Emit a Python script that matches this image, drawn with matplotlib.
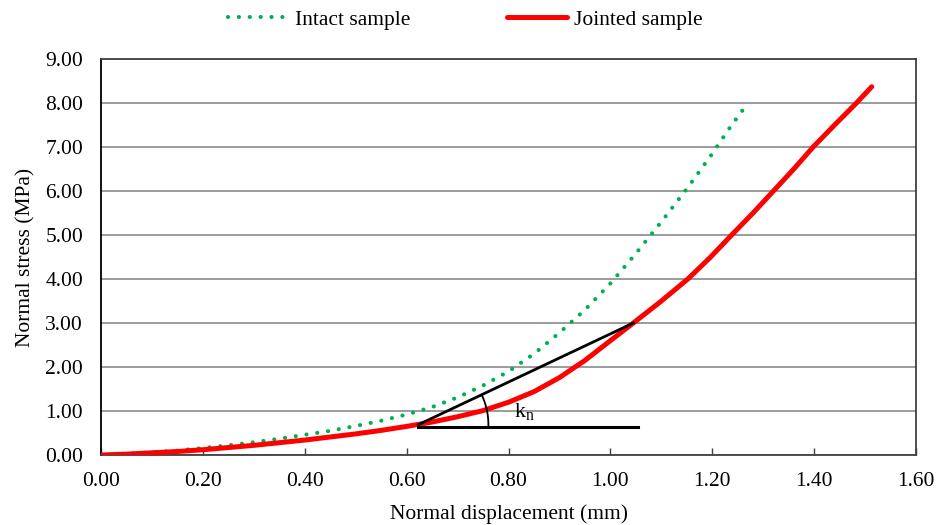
import numpy as np
import matplotlib
matplotlib.use("Agg")
import matplotlib.pyplot as plt

plt.rcParams["font.family"] = ["Liberation Serif", "DejaVu Serif"]
plt.rcParams["mathtext.fontset"] = "custom"
plt.rcParams["mathtext.rm"] = "Liberation Serif"
plt.rcParams["mathtext.it"] = "Liberation Serif:italic"

# Normal stress (MPa) vs. normal displacement (mm)
intact_disp = [0.00, 0.05, 0.10, 0.15, 0.20, 0.25, 0.30, 0.35, 0.40, 0.45, 0.50,
               0.55, 0.60, 0.65, 0.70, 0.75, 0.80, 0.85, 0.90, 0.95, 1.00,
               1.05, 1.10, 1.15, 1.20, 1.235, 1.27]
intact_stress = [0.00, 0.03, 0.06, 0.10, 0.16, 0.22, 0.29, 0.37, 0.46, 0.55, 0.66,
                 0.78, 0.92, 1.09, 1.31, 1.58, 1.90, 2.30, 2.78, 3.30, 3.90,
                 4.58, 5.30, 6.05, 6.85, 7.45, 8.00]

jointed_disp = [0.00, 0.05, 0.10, 0.15, 0.20, 0.25, 0.30, 0.35, 0.40, 0.45, 0.50,
                0.55, 0.60, 0.65, 0.70, 0.75, 0.80, 0.85, 0.90, 0.95, 1.00,
                1.045, 1.10, 1.152, 1.195, 1.238, 1.28, 1.32, 1.36, 1.398,
                1.44, 1.483, 1.513]
jointed_stress = [0.00, 0.02, 0.05, 0.08, 0.12, 0.17, 0.22, 0.28, 0.34, 0.41, 0.48,
                  0.56, 0.65, 0.75, 0.87, 1.01, 1.20, 1.44, 1.76, 2.15, 2.60,
                  3.00, 3.50, 4.00, 4.48, 5.00, 5.50, 6.00, 6.50, 7.00,
                  7.50, 8.00, 8.37]

x_ticks = [0.00, 0.20, 0.40, 0.60, 0.80, 1.00, 1.20, 1.40, 1.60]
y_ticks = [0, 1, 2, 3, 4, 5, 6, 7, 8, 9]

# Secant stiffness construction (k_n)
kn_start = (0.623, 0.69)
kn_end = (1.045, 3.00)
kn_base_y = 0.64
kn_base_end = 1.055
kn_label_pos = (0.810, 0.86)

FS = 15.5

fig = plt.figure(figsize=(9.38, 5.25), dpi=100)
ax = fig.add_axes([0.1077, 0.1333, 0.8689, 0.7543])

ax.set_xlim(0, 1.6)
ax.set_ylim(0, 9)
ax.set_xticks(x_ticks)
ax.set_xticklabels([f"{v:.2f}" for v in x_ticks])
ax.set_yticks(y_ticks)
ax.set_yticklabels([f"{v:.2f}" for v in y_ticks])
ax.tick_params(axis="x", direction="in", length=5, width=1.0, color="#404040",
               labelsize=FS, pad=12)
ax.tick_params(axis="y", length=0, labelsize=FS, pad=13)
ax.grid(axis="y", color="#808080", linewidth=1.1, zorder=0)
ax.set_axisbelow(True)
for side in ("top", "right", "bottom"):
    ax.spines[side].set_color("#404040")
    ax.spines[side].set_linewidth(1.3)
ax.spines["left"].set_color("black")
ax.spines["left"].set_linewidth(1.3)

ax.plot(intact_disp, intact_stress, color="#00b050", linewidth=3.0,
        linestyle=(0, (0.01, 2.6)), dash_capstyle="round",
        label="Intact sample", zorder=3)
ax.plot(jointed_disp, jointed_stress, color="#ff0000", linewidth=3.6,
        solid_capstyle="round", solid_joinstyle="round",
        label="Jointed sample", zorder=4)

# secant line and horizontal reference
ax.plot([kn_start[0], kn_end[0]], [kn_start[1], kn_end[1]], color="black",
        linewidth=2.0, zorder=5)
ax.plot([kn_start[0], kn_base_end], [kn_base_y, kn_base_y], color="black",
        linewidth=2.2, zorder=5)

# angle arc, drawn as a circle in display space
fig.canvas.draw()
to_disp = ax.transData
p0 = to_disp.transform(kn_start)
p1 = to_disp.transform(kn_end)
ang = np.arctan2(p1[1] - p0[1], p1[0] - p0[0])
r = 70.0
t = np.linspace(0, ang, 40)
arc_disp = np.column_stack([p0[0] + r * np.cos(t), p0[1] + r * np.sin(t)])
base_disp_y = to_disp.transform((0, kn_base_y))[1]
arc_disp[0, 1] = base_disp_y
arc_data = to_disp.inverted().transform(arc_disp)
ax.plot(arc_data[:, 0], arc_data[:, 1], color="black", linewidth=1.3, zorder=5)

ax.text(kn_label_pos[0], kn_label_pos[1], r"k$_{\mathrm{n}}$", fontsize=16,
        ha="left", va="baseline", zorder=6)

ax.set_xlabel("Normal displacement (mm)", fontsize=FS, labelpad=10)
ax.set_ylabel("Normal stress (MPa)", fontsize=FS, labelpad=7)

fig.legend(loc="center", bbox_to_anchor=(0.496, 0.962), ncol=2, frameon=False,
           fontsize=FS, handlelength=2.8, handletextpad=0.3, columnspacing=4.5)

fig.savefig("out.png", dpi=100)
